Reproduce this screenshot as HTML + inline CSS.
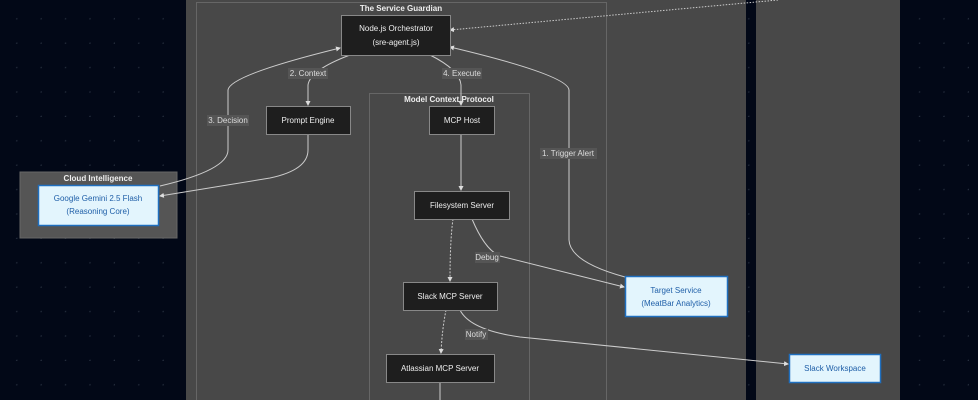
<!DOCTYPE html>
<html><head><style>
body{margin:0;width:978px;height:400px;overflow:hidden;background:#020817;font-family:"Liberation Sans",sans-serif}
</style></head><body>
<svg width="978" height="400" xmlns="http://www.w3.org/2000/svg" font-family="Liberation Sans, sans-serif" style="display:block">
<defs>
<pattern id="dots" x="-7" y="-5" width="24.4" height="24.4" patternUnits="userSpaceOnUse"><circle cx="24.2" cy="24.2" r="1.2" fill="#27303f"/></pattern>
<marker id="a" markerWidth="5" markerHeight="5" refX="4" refY="2.5" orient="auto"><path d="M0,0L5,2.5L0,5z" fill="#ddd"/></marker>
</defs>
<rect width="978" height="400" fill="#020817"/>
<rect width="978" height="400" fill="url(#dots)"/>
<rect x="186" y="0" width="560" height="400" fill="#484848"/>
<rect x="756" y="0" width="144" height="400" fill="#484848"/>
<rect x="20" y="172" width="157" height="66" fill="#555" stroke="#666"/>
<text x="98" y="181" font-size="8" font-weight="bold" fill="#eee" text-anchor="middle">Cloud Intelligence</text>
<rect x="196.5" y="2.5" width="410" height="400" fill="none" stroke="#666"/>
<text x="401" y="11" font-size="8" font-weight="bold" fill="#eee" text-anchor="middle">The Service Guardian</text>
<rect x="369.5" y="93.5" width="160" height="310" fill="none" stroke="#666"/>
<text x="449" y="102" font-size="8" font-weight="bold" fill="#eee" text-anchor="middle">Model Context Protocol</text>
<g fill="none" stroke="#ccc" stroke-width="1">
<path d="M778,0 L450,30" stroke-dasharray="1.5,1.5" marker-end="url(#a)"/>
<path d="M350,55 Q310,70 308,85 L308,105" marker-end="url(#a)"/>
<path d="M430,55 Q460,70 461,85 L461,105" marker-end="url(#a)"/>
<path d="M160,186 Q228,170 228,150 L228,90 Q230,75 340,48" marker-end="url(#a)"/>
<path d="M308,134 L308,150 Q308,170 270,178 L160,196" marker-end="url(#a)"/>
<path d="M461,134 L461,190" marker-end="url(#a)"/>
<path d="M453,219 Q450,240 450,281" stroke-dasharray="2,1.5" marker-end="url(#a)"/>
<path d="M472,219 Q485,250 500,256 L624,287" marker-end="url(#a)"/>
<path d="M625,277 Q570,262 569,240 L569,90 Q568,75 450,47" marker-end="url(#a)"/>
<path d="M446,310 Q442,330 441,353" stroke-dasharray="2,1.5" marker-end="url(#a)"/>
<path d="M460,310 Q470,330 520,337 L788,364" marker-end="url(#a)"/>
<path d="M440,382 L440,400"/>
</g>
<g font-size="8" fill="#ddd" text-anchor="middle">
<rect x="288" y="68" width="40" height="11" fill="#555"/><text x="308" y="76">2. Context</text>
<rect x="442" y="68" width="40" height="11" fill="#555"/><text x="462" y="76">4. Execute</text>
<rect x="207" y="115" width="42" height="11" fill="#555"/><text x="228" y="123">3. Decision</text>
<rect x="540" y="148" width="57" height="11" fill="#555"/><text x="568" y="156">1. Trigger Alert</text>
<rect x="475" y="252" width="25" height="11" fill="#555"/><text x="487" y="260">Debug</text>
<rect x="465" y="329" width="23" height="11" fill="#555"/><text x="476" y="337">Notify</text>
</g>
<g stroke="#888" fill="#1e1e1e">
<rect x="341.5" y="15.5" width="109" height="40"/>
<rect x="266.5" y="106.5" width="84" height="28"/>
<rect x="429.5" y="106.5" width="65" height="28"/>
<rect x="414.5" y="191.5" width="95" height="28"/>
<rect x="403.5" y="282.5" width="94" height="28"/>
<rect x="386.5" y="354.5" width="108" height="28"/>
</g>
<g font-size="8" fill="#eee" text-anchor="middle">
<text x="396" y="31">Node.js Orchestrator</text><text x="396" y="45">(sre-agent.js)</text>
<text x="308" y="123">Prompt Engine</text>
<text x="462" y="123">MCP Host</text>
<text x="462" y="208">Filesystem Server</text>
<text x="450" y="299">Slack MCP Server</text>
<text x="440" y="371">Atlassian MCP Server</text>
</g>
<g stroke="#1f6fbf" stroke-width="1.5" fill="#e3f5fd">
<rect x="38.5" y="185.5" width="120" height="40"/>
<rect x="625.5" y="276.5" width="102" height="40"/>
<rect x="789.5" y="354.5" width="91" height="28"/>
</g>
<g font-size="8" fill="#1f5fa8" text-anchor="middle">
<text x="98" y="201">Google Gemini 2.5 Flash</text><text x="98" y="214">(Reasoning Core)</text>
<text x="676" y="293">Target Service</text><text x="676" y="306">(MeatBar Analytics)</text>
<text x="835" y="371">Slack Workspace</text>
</g>
</svg>
</body></html>
